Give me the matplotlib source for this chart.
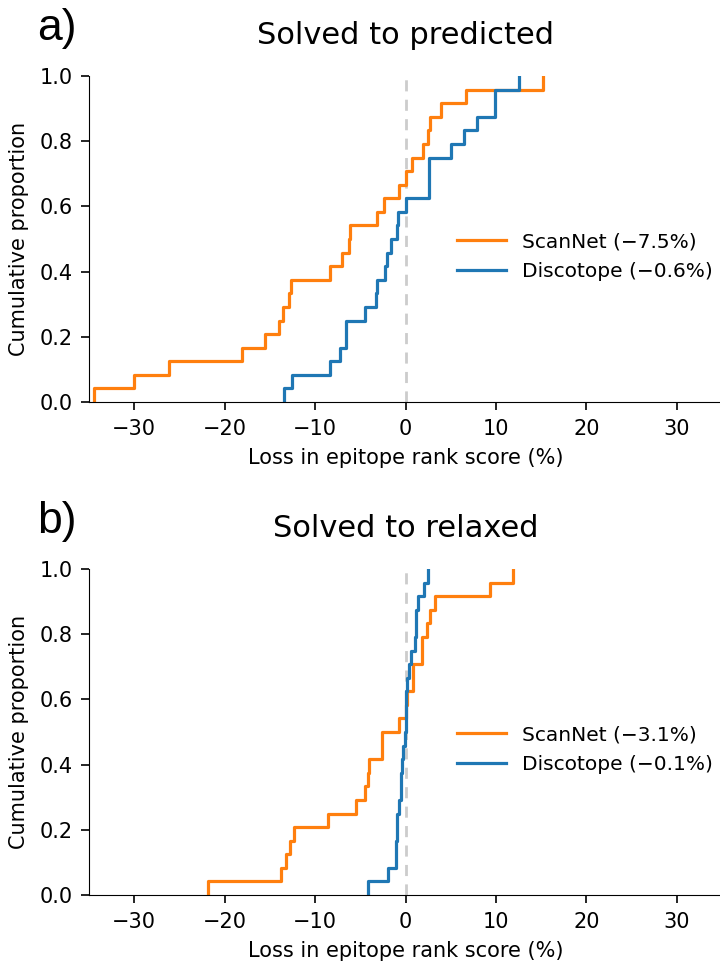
import matplotlib
matplotlib.use("Agg")
import matplotlib.pyplot as plt
import numpy as np

# loss in epitope rank score (%), one value per antigen (24 each)
scannet_pred = [-34.4, -30.0, -26.2, -18.1, -15.5, -14.0, -13.6, -12.9, -12.7, -8.4,
                -7.0, -6.3, -6.1, -3.1, -2.4, -0.7, 0.0, 0.7, 1.9, 2.5,
                2.7, 3.9, 6.7, 15.2]
discotope_pred = [-13.4, -12.6, -8.4, -7.2, -6.6, -6.6, -4.5, -3.3, -3.1, -2.3,
                  -2.1, -1.65, -0.9, -0.85, 0.0, 2.55, 2.6, 2.65, 5.0, 6.5,
                  7.9, 9.9, 9.9, 12.5]
scannet_relax = [-21.8, -13.8, -13.2, -12.8, -12.3, -8.6, -5.45, -4.45, -4.2, -4.0,
                 -2.6, -2.55, -0.7, 0.0, 0.2, 0.85, 0.85, 1.8, 1.8, 2.35,
                 2.7, 3.25, 9.35, 11.9]
discotope_relax = [-4.2, -1.9, -1.05, -1.0, -0.95, -0.9, -0.7, -0.55, -0.5, -0.4,
                   -0.25, -0.1, 0.05, 0.1, 0.1, 0.15, 0.4, 0.65, 1.0, 1.2,
                   1.2, 1.4, 2.1, 2.5]

panels = [
    ("a)", "Solved to predicted", scannet_pred, discotope_pred, "ScanNet (−7.5%)", "Discotope (−0.6%)"),
    ("b)", "Solved to relaxed", scannet_relax, discotope_relax, "ScanNet (−3.1%)", "Discotope (−0.1%)"),
]

plt.rcParams['font.family'] = ['DejaVu Sans']
plt.rcParams['font.size'] = 15


def ecdf_step(ax, vals, color, label):
    x = np.sort(np.asarray(vals, dtype=float))
    y = np.arange(1, len(x) + 1) / len(x)
    ax.step(np.r_[x[0], x], np.r_[0, y], where='post', color=color, lw=2.3, label=label)


fig = plt.figure(figsize=(7.2, 9.64), dpi=100)
W, H = 720.0, 964.0
axes_top = [76, 569]

for (tag, title, sn, dt, lsn, ldt), top in zip(panels, axes_top):
    ax = fig.add_axes([89 / W, 1 - (top + 326) / H, 633 / W, 326 / H])
    ax.axvline(0, color='#cccccc', ls='--', lw=2, dashes=(4, 3), zorder=1)
    ecdf_step(ax, sn, '#ff7f0e', lsn)
    ecdf_step(ax, dt, '#1f77b4', ldt)
    ax.set_xlim(-35, 35)
    ax.set_ylim(0, 1)
    ax.set_xticks([-30, -20, -10, 0, 10, 20, 30])
    ax.set_yticks([0.0, 0.2, 0.4, 0.6, 0.8, 1.0])
    ax.set_yticklabels(['0.0', '0.2', '0.4', '0.6', '0.8', '1.0'])
    ax.spines['top'].set_visible(False)
    ax.spines['right'].set_visible(False)
    ax.tick_params(length=5.5, width=1.2, labelsize=15)
    ax.tick_params(axis='y', pad=6)
    ax.tick_params(axis='x', pad=7)
    ax.set_xlabel('Loss in epitope rank score (%)', fontsize=15, labelpad=6)
    ax.set_ylabel('Cumulative proportion', fontsize=15, labelpad=8)
    ax.set_title(title, fontsize=22, pad=23)
    ax.legend(loc='center left', bbox_to_anchor=(0.553, 0.445), frameon=False,
              handlelength=2.4, fontsize=14.5, labelspacing=0.55)
    fig.text(37 / W, 1 - (top - 36) / H, tag, fontsize=32, family='Liberation Sans',
             va='baseline', ha='left')

fig.savefig('out.png', dpi=100)
